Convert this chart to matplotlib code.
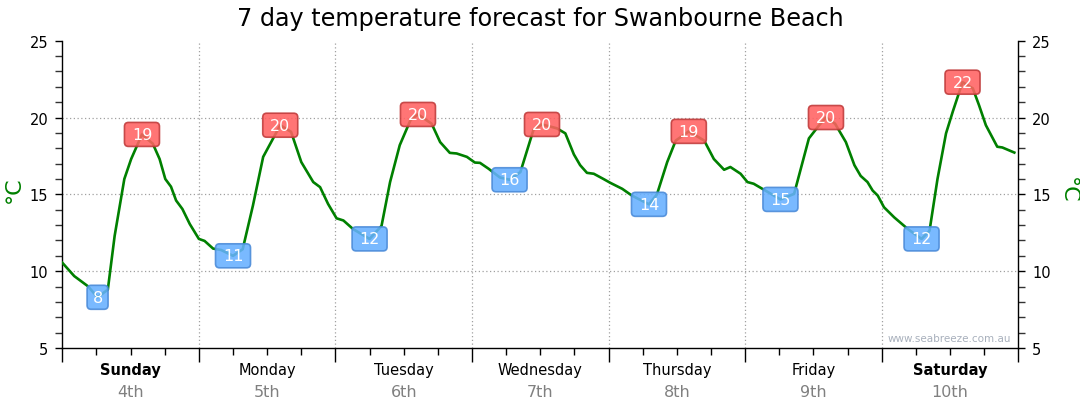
import matplotlib
matplotlib.use("Agg")
import matplotlib.pyplot as plt
import matplotlib.transforms as mtransforms
from matplotlib.patches import FancyBboxPatch
from matplotlib.ticker import MultipleLocator
import numpy as np

plt.rcParams['font.family'] = ['DejaVu Sans']

# ---- data (hours since Sunday 00:00, temperature in degC) ----
hours = [0, 2.1, 4.5, 6.2, 8.0, 9.2, 10.9, 12.1, 14.0, 15.9, 17.1, 18.1, 19.1, 20.0,
         21.1, 22.4, 24.0, 25.0, 26.5, 27.9, 30.0, 31.7, 33.5, 35.3, 36.7, 38.3,
         40.2, 42.0, 44.1, 45.3, 46.7, 48.2, 49.4, 51.1, 54.0, 56.1, 57.6, 59.3,
         61.2, 62.5, 64.9, 66.4, 68.1, 69.3, 71.1, 72.5, 73.4, 74.9, 76.9, 78.6,
         80.5, 82.8, 84.3, 86.9, 88.4, 89.9, 91.0, 92.2, 93.4, 95.1, 96.3, 98.4,
         100.1, 103.1, 104.5, 106.3, 107.8, 110.1, 112.8, 114.5, 116.3, 117.4,
         119.2, 120.4, 121.5, 123.3, 126.2, 128.6, 131.2, 133.0, 134.2, 135.8,
         137.7, 139.2, 140.3, 141.5, 142.4, 143.3, 144.4, 146.2, 148.6, 151.0,
         152.4, 153.8, 155.3, 156.5, 158.2, 160.0, 161.1, 162.3, 164.3, 165.2, 167.3]
temps = [10.55, 9.68, 9.02, 8.3, 8.8, 12.3, 16.0, 17.3, 18.9, 18.3, 17.3, 16.0, 15.5, 14.6,
         14.05, 13.07, 12.1, 11.97, 11.47, 11.38, 11.0, 11.43, 14.27, 17.44, 18.4, 19.5,
         19.07, 17.1, 15.8, 15.47, 14.38, 13.44, 13.3, 12.74, 12.1, 12.95, 15.8, 18.2,
         19.84, 20.2, 19.6, 18.4, 17.7, 17.66, 17.44, 17.07, 17.05, 16.67, 16.1, 15.95,
         16.45, 19.2, 19.55, 19.3, 18.97, 17.6, 16.9, 16.4, 16.34, 16.0, 15.75, 15.36,
         14.92, 14.35, 15.0, 17.1, 18.5, 19.1, 18.5, 17.3, 16.6, 16.78,
         16.34, 15.8, 15.69, 15.3, 14.67, 15.03, 18.64, 19.5, 20.0, 19.6,
         18.4, 16.9, 16.2, 15.8, 15.25, 14.92, 14.16, 13.5, 12.74, 12.1,
         12.63, 16.0, 18.97, 20.4, 22.3, 21.9, 20.8, 19.5, 18.1, 18.05, 17.72]

day_names = ["Sunday", "Monday", "Tuesday", "Wednesday", "Thursday", "Friday", "Saturday"]
day_dates = ["4th", "5th", "6th", "7th", "8th", "9th", "10th"]
weekend = [True, False, False, False, False, False, True]
max_labels = [19, 20, 20, 20, 19, 20, 22]
min_labels = [8, 11, 12, 16, 14, 15, 12]

fig = plt.figure(figsize=(10.8, 4.14), dpi=100)
ax = fig.add_axes([62.3 / 1080, 1 - 349 / 414, (1018.3 - 62.3) / 1080, (349 - 41.7) / 414])

h = np.array(hours)
t = np.array(temps)
ax.plot(h, t, color='#008000', lw=1.9, zorder=3, solid_joinstyle='round')

ax.set_xlim(0, 168)
ax.set_ylim(5, 25)

# ticks
ax.set_xticks(np.arange(0, 169, 24))
ax.xaxis.set_minor_locator(MultipleLocator(6))
ax.set_xticklabels([])
ax.tick_params(axis='x', which='major', direction='out', length=10, width=1, color='black')
ax.tick_params(axis='x', which='minor', direction='out', length=5, width=1, color='black')

ax.set_yticks([5, 10, 15, 20, 25])
ax.yaxis.set_minor_locator(MultipleLocator(1))
ax.tick_params(axis='y', which='both', direction='out', length=5, width=1, color='#333333',
               labelsize=10.5, labelleft=True, labelright=True, left=True, right=True, pad=5)
ax.tick_params(axis='y', which='major', color='black')

ax.spines['top'].set_visible(False)
for s in ['left', 'right', 'bottom']:
    ax.spines[s].set_color('black')
    ax.spines[s].set_linewidth(1)

# grid
for d in range(1, 7):
    ax.axvline(d * 24, color='#a0a0a0', lw=0.9, ls=(0, (1, 2)), zorder=1)
for yv in [10, 15, 20]:
    ax.axhline(yv, color='#a0a0a0', lw=0.9, ls=(0, (1, 2)), zorder=1)

# day labels
tr = mtransforms.blended_transform_factory(ax.transData, fig.transFigure)
for i, (nm, dt) in enumerate(zip(day_names, day_dates)):
    xc = i * 24 + 12
    ax.text(xc, 1 - 371 / 414, nm, transform=tr, ha='center', va='center', fontsize=10.5,
            fontweight='bold' if weekend[i] else 'normal', color='black')
    ax.text(xc, 1 - 393 / 414, dt, transform=tr, ha='center', va='center', fontsize=11.5,
            color='#808080')

# value boxes
def add_box(x, y, label, fc, ec):
    w = 0.35 if label >= 10 else 0.21
    hgt = 0.24
    trans = fig.dpi_scale_trans + mtransforms.ScaledTranslation(x, y, ax.transData)
    box = FancyBboxPatch((-w / 2, -hgt / 2), w, hgt, boxstyle="round,pad=0,rounding_size=0.04",
                         transform=trans, fc=fc, ec=ec, lw=1.2, alpha=0.88, zorder=5)
    ax.add_patch(box)
    ax.text(x, y, str(label), ha='center', va='center', color='white', fontsize=11.5,
            zorder=6)

for d in range(7):
    m1 = (h >= d * 24) & (h < d * 24 + 10)
    idx = np.where(m1)[0][np.argmin(t[m1])]
    add_box(h[idx], t[idx], min_labels[d], '#66b0ff', '#4a8ad8')
    m2 = (h >= d * 24 + 10) & (h < d * 24 + 20)
    idx = np.where(m2)[0][np.argmax(t[m2])]
    add_box(h[idx], t[idx], max_labels[d], '#ff6262', '#c03a3a')

# titles and axis labels
fig.text(0.5, 1 - 19 / 414, "7 day temperature forecast for Swanbourne Beach",
         ha='center', va='center', fontsize=17.2, color='black')
fig.text(14 / 1080, 1 - 190 / 414, "°C", rotation=90, ha='center', va='center',
         fontsize=16, color='#008000')
fig.text(1068 / 1080, 1 - 190 / 414, "°C", rotation=-90, ha='center', va='center',
         fontsize=16, color='#008000')
ax.text(1011 / 1080, 1 - 339 / 414, "www.seabreeze.com.au", transform=fig.transFigure,
        ha='right', va='center', fontsize=7.5, color='#a8b0bc')

fig.savefig("out.png", dpi=100)
